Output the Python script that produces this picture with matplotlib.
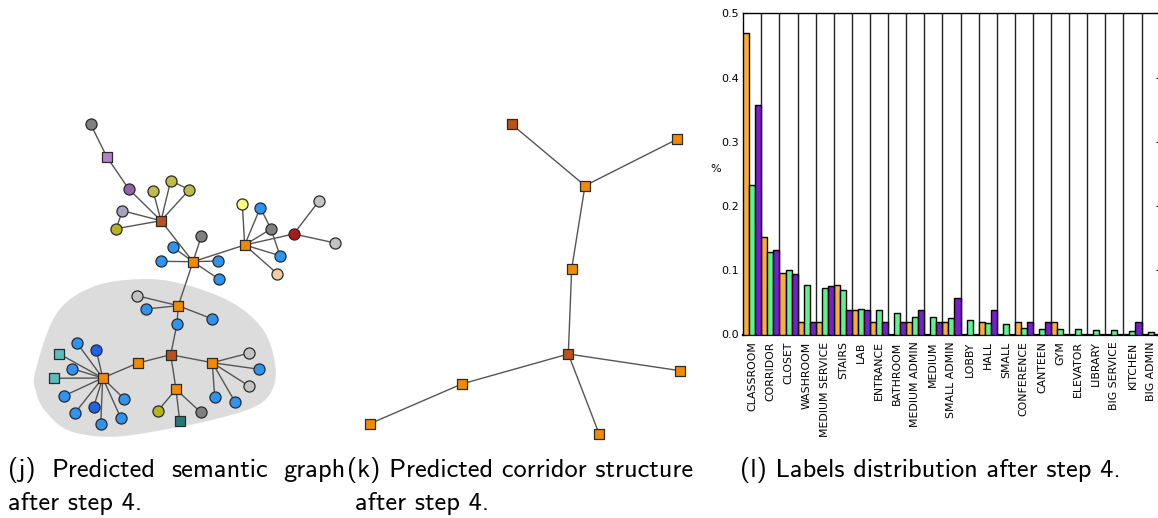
import numpy as np
import matplotlib

matplotlib.use("Agg")
import matplotlib.pyplot as plt
from matplotlib.patches import Polygon

# ---------------- (j) predicted semantic graph ----------------
sem_x = [90.7, 106.7, 128.7, 153, 170.7, 189.3, 122.3, 116.3, 161, 201.3,
         172.7, 160.7, 193, 218.3, 218.7, 244.7, 242.3, 260.3, 271, 293.7,
         318.7, 335.3, 280, 277.3, 178.3, 137, 145.7, 211.7, 177, 170.7,
         138, 212.3, 102.7, 176, 59, 54, 77, 96.3, 72.3, 63.7,
         74.7, 93.7, 100.7, 121, 124.3, 249.3, 259.3, 249, 214.7, 235.3,
         158, 179.7, 200.7]
sem_y = [124.3, 156.7, 189, 190.7, 180.7, 189.7, 210.7, 228.7, 220.7, 236.3,
         247, 261.3, 261.7, 261, 279, 245, 204, 207.7, 229, 234,
         201.3, 243, 255.7, 273.7, 305.7, 295.7, 309, 318.7, 323.7, 354.7,
         363, 362.7, 378, 389.3, 353.7, 378.3, 343, 350, 368.7, 396,
         413.3, 406.7, 424.3, 418.3, 399, 353, 369.3, 386, 397.3, 402.3,
         410.7, 421, 412.3]
sem_kind = ["gray", "purple_sq", "purple", "olive", "olive", "olive", "lavender",
            "olive_dark", "brown", "gray", "blue", "blue", "orange", "blue", "blue",
            "orange", "yellow", "blue", "gray", "red", "silver", "silver", "blue",
            "peach", "orange", "silver", "blue", "blue", "blue", "brown", "orange",
            "orange", "orange", "orange", "teal", "teal", "blue", "dblue", "blue",
            "blue", "blue", "dblue", "blue", "blue", "blue", "silver", "blue",
            "silver", "blue", "blue", "olive_dark", "dteal", "gray"]
sem_edges = [(0, 1), (1, 2), (2, 8), (8, 3), (8, 4), (8, 5), (8, 6), (8, 7),
             (6, 7), (4, 5), (8, 12), (12, 9), (12, 10), (12, 11), (12, 13),
             (12, 14), (12, 15), (12, 24), (15, 16), (15, 17), (15, 18),
             (15, 19), (15, 22), (15, 23), (17, 18), (18, 22), (19, 20),
             (19, 21), (24, 25), (24, 26), (24, 27), (24, 28), (28, 29),
             (29, 30), (29, 31), (29, 33), (30, 32), (32, 34), (32, 35),
             (32, 36), (32, 37), (32, 38), (32, 39), (32, 40), (32, 41),
             (32, 42), (32, 43), (32, 44), (31, 45), (31, 46), (31, 47),
             (31, 48), (31, 49), (33, 50), (33, 51), (33, 52)]
blob_x = [35.7, 56.7, 93.3, 143.3, 186.7, 233.3, 263.3, 275, 273, 258,
          220, 168, 113.3, 70, 46, 36]
blob_y = [370, 313.3, 286.7, 279, 285, 303.3, 330, 363.3, 388, 405,
          418, 429, 436.7, 431, 412, 392]

# ---------------- (k) predicted corridor structure ----------------
cor_x = [511.7, 677, 585, 571.7, 568.3, 461.7, 370, 680, 599.3]
cor_y = [124.3, 139.3, 185.7, 268.7, 354, 384, 423.7, 370.7, 434.3]
cor_kind = ["brown", "orange", "orange", "orange", "brown", "orange",
            "orange", "orange", "orange"]
cor_edges = [(0, 2), (1, 2), (2, 3), (3, 4), (4, 5), (5, 6), (4, 7), (4, 8)]

# ---------------- (l) labels distribution ----------------
labels = ["CLASSROOM", "CORRIDOR", "CLOSET", "WASHROOM", "MEDIUM SERVICE",
          "STAIRS", "LAB", "ENTRANCE", "BATHROOM", "MEDIUM ADMIN", "MEDIUM",
          "SMALL ADMIN", "LOBBY", "HALL", "SMALL", "CONFERENCE", "CANTEEN",
          "GYM", "ELEVATOR", "LIBRARY", "BIG SERVICE", "KITCHEN", "BIG ADMIN"]
dist_orange = [0.470, 0.151, 0.096, 0.019, 0.019, 0.077, 0.038, 0.019, 0.0,
               0.019, 0.0, 0.019, 0.0, 0.019, 0.0, 0.019, 0.0, 0.019, 0.0,
               0.0, 0.0, 0.0, 0.0]
dist_green = [0.233, 0.128, 0.100, 0.077, 0.072, 0.070, 0.040, 0.038, 0.033,
              0.027, 0.027, 0.025, 0.022, 0.018, 0.016, 0.010, 0.009, 0.008,
              0.008, 0.007, 0.007, 0.005, 0.004]
dist_purple = [0.358, 0.132, 0.094, 0.019, 0.075, 0.038, 0.038, 0.019, 0.019,
               0.038, 0.019, 0.057, 0.0, 0.038, 0.0, 0.019, 0.019, 0.0, 0.0,
               0.0, 0.0, 0.019, 0.0]

NODE_COLORS = {
    "orange": "#f28a00", "brown": "#b9531b", "blue": "#2f93f0",
    "dblue": "#2163e8", "gray": "#808080", "silver": "#c3c3c3",
    "olive": "#bdbb4a", "olive_dark": "#b5b41c", "purple": "#9560a8",
    "purple_sq": "#b77fc8", "lavender": "#a3a3bd", "yellow": "#fbfb82",
    "red": "#a81a1a", "peach": "#f0cba5", "teal": "#5cbcbc",
    "dteal": "#237878",
}
SQUARE_KINDS = {"orange", "brown", "purple_sq", "teal", "dteal"}
CAP_FONT = ["cmss10", "DejaVu Sans"]


def closed_spline(xs, ys, n=24):
    pts = np.column_stack([xs, ys]).astype(float)
    m = len(pts)
    out = []
    for i in range(m):
        p0, p1, p2, p3 = pts[i - 1], pts[i], pts[(i + 1) % m], pts[(i + 2) % m]
        for t in np.linspace(0, 1, n, endpoint=False):
            out.append(0.5 * (2 * p1 + (p2 - p0) * t
                              + (2 * p0 - 5 * p1 + 4 * p2 - p3) * t ** 2
                              + (3 * p1 - p0 - 3 * p2 + p3) * t ** 3))
    return np.array(out)


def draw_graph(ax, xs, ys, kinds, edges):
    for a, b in edges:
        ax.plot([xs[a], xs[b]], [ys[a], ys[b]], color="#555555", lw=1.0, zorder=2)
    for x, y, k in zip(xs, ys, kinds):
        ax.scatter(x, y, s=58 if k in SQUARE_KINDS else 64,
                   marker="s" if k in SQUARE_KINDS else "o",
                   c=NODE_COLORS[k], edgecolors="#2a2a2a", linewidths=0.9, zorder=3)


fig = plt.figure(figsize=(11.58, 5.18), dpi=100)

# background axes in pixel coordinates for the two graph drawings and captions
gax = fig.add_axes([0, 0, 1, 1])
gax.set_xlim(0, 1158)
gax.set_ylim(518, 0)
gax.axis("off")

gax.add_patch(Polygon(closed_spline(blob_x, blob_y), closed=True,
                      facecolor="#dcdcdc", edgecolor="none", zorder=1))
draw_graph(gax, sem_x, sem_y, sem_kind, sem_edges)
draw_graph(gax, cor_x, cor_y, cor_kind, cor_edges)

# captions
cap_size = 19
line1_y, line2_y = 477, 510
words = ["(j)", "Predicted", "semantic", "graph"]
txts = [gax.text(0, line1_y, w, fontsize=cap_size, family=CAP_FONT, va="baseline")
        for w in words]
fig.canvas.draw()
renderer = fig.canvas.get_renderer()
to_data = gax.transData.inverted()
widths = []
for t in txts:
    bb = t.get_window_extent(renderer)
    (x0, _), (x1, _) = to_data.transform([[bb.x0, bb.y0], [bb.x1, bb.y1]])
    widths.append(x1 - x0)
left, right = 8, 346
gap = (right - left - sum(widths)) / (len(words) - 1)
xpos = left
for t, w in zip(txts, widths):
    t.set_x(xpos)
    xpos += w + gap
gax.text(8, line2_y, "after step 4.", fontsize=cap_size, family=CAP_FONT, va="baseline")
gax.text(347, line1_y, "(k) Predicted corridor structure", fontsize=cap_size,
         family=CAP_FONT, va="baseline")
gax.text(355, line2_y, "after step 4.", fontsize=cap_size, family=CAP_FONT, va="baseline")
gax.text(740, line1_y, "(l) Labels distribution after step 4.", fontsize=cap_size,
         family=CAP_FONT, va="baseline")

# bar chart
bx = fig.add_axes([743.3 / 1158, 1 - 334.5 / 518, 416.3 / 1158, 321.2 / 518])
idx = np.arange(len(labels))
w = 1 / 3
bx.bar(idx - w, dist_orange, width=w, color="#fbad3c", edgecolor="black", lw=1.0, zorder=3)
bx.bar(idx, dist_green, width=w, color="#5cf58c", edgecolor="black", lw=1.0, zorder=3)
bx.bar(idx + w, dist_purple, width=w, color="#7a1dcc", edgecolor="black", lw=1.0, zorder=3)
bx.vlines(idx[1:] - 0.5, 0, 0.5, color="#222222", lw=1.0, zorder=2)
bx.set_xlim(-0.5, len(labels) - 0.5)
bx.set_ylim(0, 0.5)
bx.set_yticks([0.0, 0.1, 0.2, 0.3, 0.4, 0.5])
bx.set_yticklabels(["0.0", "0.1", "0.2", "0.3", "0.4", "0.5"], fontsize=8)
bx.set_xticks(idx)
bx.set_xticklabels(labels, rotation=90, fontsize=7.8)
bx.tick_params(axis="y", direction="in", length=3, right=True, pad=3)
bx.tick_params(axis="x", direction="in", length=0, pad=5)
bx.set_ylabel("%", fontsize=8, rotation=0, labelpad=4)
for side in ["left", "top", "right"]:
    bx.spines[side].set_linewidth(1.0)
bx.spines["bottom"].set_linewidth(1.6)

fig.savefig("out.png", dpi=100)
